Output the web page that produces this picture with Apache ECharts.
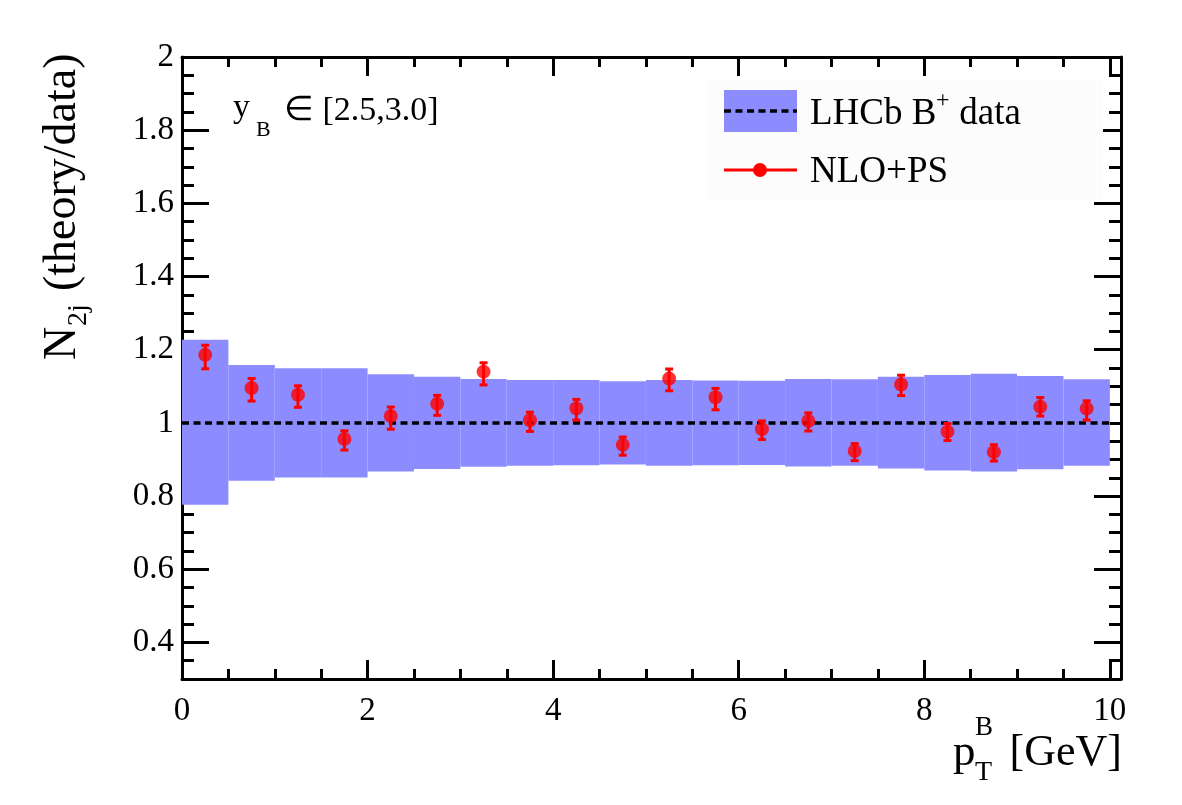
<!DOCTYPE html>
<html>
<head>
<meta charset="utf-8">
<script src="https://cdn.jsdelivr.net/npm/echarts@6/dist/echarts.min.js"></script>
<style>
  html, body { margin: 0; padding: 0; background: #fff; }
  #chart { width: 1182px; height: 805px; }
</style>
</head>
<body>
<div id="chart"></div>
<script>
// bins of pT (GeV)
const binLow  = [0, 0.5, 1, 1.5, 2, 2.5, 3, 3.5, 4, 4.5, 5, 5.5, 6, 6.5, 7, 7.5, 8, 8.5, 9, 9.5];
const binHigh = [0.5, 1, 1.5, 2, 2.5, 3, 3.5, 4, 4.5, 5, 5.5, 6, 6.5, 7, 7.5, 8, 8.5, 9, 9.5, 10];
// LHCb data uncertainty band (ratio)
const bandUp   = [1.227, 1.158, 1.149, 1.149, 1.133, 1.126, 1.120, 1.117, 1.117, 1.114, 1.117, 1.116, 1.115, 1.120, 1.119, 1.126, 1.131, 1.134, 1.128, 1.119];
const bandDown = [0.776, 0.842, 0.851, 0.851, 0.867, 0.874, 0.880, 0.883, 0.884, 0.886, 0.883, 0.884, 0.885, 0.881, 0.883, 0.875, 0.870, 0.867, 0.873, 0.883];
// NLO+PS points
const ptX    = [0.25, 0.75, 1.25, 1.75, 2.25, 2.75, 3.25, 3.75, 4.25, 4.75, 5.25, 5.75, 6.25, 6.75, 7.25, 7.75, 8.25, 8.75, 9.25, 9.75];
const ptY    = [1.186, 1.095, 1.077, 0.956, 1.019, 1.052, 1.140, 1.007, 1.040, 0.940, 1.121, 1.070, 0.983, 1.005, 0.923, 1.105, 0.976, 0.920, 1.044, 1.039];
const errUp  = [1.215, 1.124, 1.104, 0.981, 1.046, 1.078, 1.167, 1.032, 1.067, 0.964, 1.150, 1.097, 1.008, 1.030, 0.946, 1.133, 1.001, 0.943, 1.072, 1.063];
const errDown= [1.145, 1.057, 1.040, 0.923, 0.980, 1.018, 1.101, 0.974, 1.005, 0.909, 1.085, 1.033, 0.952, 0.975, 0.894, 1.072, 0.949, 0.893, 1.016, 1.005];
const refLine = [[0, 1], [10, 1]];

const FONT = '"Liberation Serif", "Times New Roman", serif';
const BAND = '#8c8cff';
const X_MAX = 10.12; // frame runs a bit past the last bin

// text placed by its baseline
function txt(x, base, text, size, align) {
  return {
    type: 'text', x: x, y: base - 0.3 * size, z: 100,
    style: { text: text, fontSize: size, fontFamily: FONT, fill: '#000', align: align || 'left', verticalAlign: 'middle' }
  };
}

const chart = echarts.init(document.getElementById('chart'));

const black3 = { color: '#000', width: 3 };
// major x ticks (every 2) and minor x ticks (every 0.5) as separate axes
function xMajor(pos, labels) {
  return {
    type: 'value', position: pos, min: 0, max: X_MAX, interval: 2,
    axisLine: { show: true, onZero: false, lineStyle: black3 },
    axisTick: { show: true, inside: true, length: 19, lineStyle: black3 },
    axisLabel: labels
      ? { color: '#000', fontFamily: FONT, fontSize: 33, margin: 16, showMaxLabel: false }
      : { show: false },
    splitLine: { show: false }
  };
}
function xMinor(pos) {
  return {
    type: 'value', position: pos, min: 0, max: X_MAX, interval: 0.5,
    axisLine: { show: false },
    axisTick: { show: true, inside: true, length: 10, lineStyle: black3 },
    axisLabel: { show: false },
    splitLine: { show: false }
  };
}
const yCommon = {
  type: 'value', min: 0.3, max: 2, splitNumber: 8,
  axisLine: { show: true, onZero: false, lineStyle: black3 },
  axisTick: { show: true, inside: true, length: 27, lineStyle: black3 },
  minorTick: { show: true, splitNumber: 4, length: 12, lineStyle: black3 },
  splitLine: { show: false }
};

const option = {
  animation: false,
  backgroundColor: '#fff',
  grid: { left: 182, right: 61, top: 57, bottom: 126, containLabel: false },
  xAxis: [xMajor('bottom', true), xMajor('top', false), xMinor('bottom'), xMinor('top')],
  yAxis: [
    Object.assign({}, yCommon, { position: 'left',
      axisLabel: { color: '#000', fontFamily: FONT, fontSize: 33, margin: 8, showMinLabel: false } }),
    Object.assign({}, yCommon, { position: 'right', axisLabel: { show: false } })
  ],
  series: [
    {
      name: 'LHCb B+ data',
      type: 'custom',
      clip: true,
      encode: { x: [0, 1], y: [2, 3] },
      data: binLow.map((lo, i) => [lo, binHigh[i], bandUp[i], bandDown[i]]),
      renderItem: function (params, api) {
        const a = api.coord([api.value(0), api.value(2)]);
        const b = api.coord([api.value(1), api.value(3)]);
        return {
          type: 'rect',
          shape: { x: a[0], y: a[1], width: b[0] - a[0], height: b[1] - a[1] },
          style: { fill: BAND }
        };
      },
      z: 1
    },
    {
      name: 'ref',
      type: 'line',
      data: refLine,
      symbol: 'none',
      lineStyle: { color: '#000', width: 3.5, type: [7, 4.5] },
      z: 2
    },
    {
      name: 'errors',
      type: 'custom',
      encode: { x: 0, y: [1, 2] },
      data: ptX.map((x, i) => [x, errDown[i], errUp[i]]),
      renderItem: function (params, api) {
        const lo = api.coord([api.value(0), api.value(1)]);
        const hi = api.coord([api.value(0), api.value(2)]);
        const cw = 4;
        const st = { stroke: '#ff0000', lineWidth: 3 };
        return {
          type: 'group',
          children: [
            { type: 'line', shape: { x1: lo[0], y1: lo[1], x2: hi[0], y2: hi[1] }, style: st },
            { type: 'line', shape: { x1: hi[0] - cw, y1: hi[1] + 1, x2: hi[0] + cw, y2: hi[1] + 1 }, style: st },
            { type: 'line', shape: { x1: lo[0] - cw, y1: lo[1] - 1, x2: lo[0] + cw, y2: lo[1] - 1 }, style: st }
          ]
        };
      },
      z: 3
    },
    {
      name: 'NLO+PS',
      type: 'scatter',
      data: ptX.map((x, i) => [x, ptY[i]]),
      symbol: 'circle',
      symbolSize: 14,
      itemStyle: { color: '#ff0000' },
      z: 4
    }
  ],
  graphic: [
    // legend box
    { type: 'rect', shape: { x: 708, y: 80, width: 395, height: 121 }, style: { fill: '#fcfcfc' }, z: 90 },
    { type: 'rect', shape: { x: 724, y: 90, width: 73, height: 42 }, style: { fill: BAND }, z: 91 },
    { type: 'line', shape: { x1: 724, y1: 111, x2: 797, y2: 111 }, style: { stroke: '#000', lineWidth: 3.5, lineDash: [7, 4.5] }, z: 92 },
    { type: 'line', shape: { x1: 724, y1: 170, x2: 797, y2: 170 }, style: { stroke: '#ff0000', lineWidth: 3 }, z: 92 },
    { type: 'circle', shape: { cx: 760, cy: 170, r: 7 }, style: { fill: '#ff0000' }, z: 93 },
    txt(810, 125, 'LHCb B', 37),
    txt(936, 108, '+', 24),
    txt(950, 125, ' data', 37),
    txt(810, 183, 'NLO+PS', 37),
    // rapidity bin label
    txt(233, 118, 'y', 34),
    txt(256, 137, 'B', 22),
    txt(284, 121, '\u2208 [2.5,3.0]', 34),
    // x axis title
    txt(953, 767, 'p', 45),
    txt(975, 736, 'B', 27),
    txt(975, 781, 'T', 28),
    txt(1122, 767, '[GeV]', 44, 'right'),
    // y axis title (rotated)
    {
      type: 'group', x: 77, y: 360, rotation: Math.PI / 2, z: 100,
      children: [
        { type: 'text', x: 0, y: -0.3 * 46, style: { text: 'N', fontSize: 46, fontFamily: FONT, fill: '#000', verticalAlign: 'middle' } },
        { type: 'text', x: 34, y: 10 - 0.3 * 28, style: { text: '2j', fontSize: 28, fontFamily: FONT, fill: '#000', verticalAlign: 'middle' } },
        { type: 'text', x: 69, y: -0.3 * 46, style: { text: '(theory/data)', fontSize: 46, fontFamily: FONT, fill: '#000', verticalAlign: 'middle' } }
      ]
    }
  ]
};

chart.setOption(option);
window.addEventListener('resize', () => chart.resize());
</script>
</body>
</html>
